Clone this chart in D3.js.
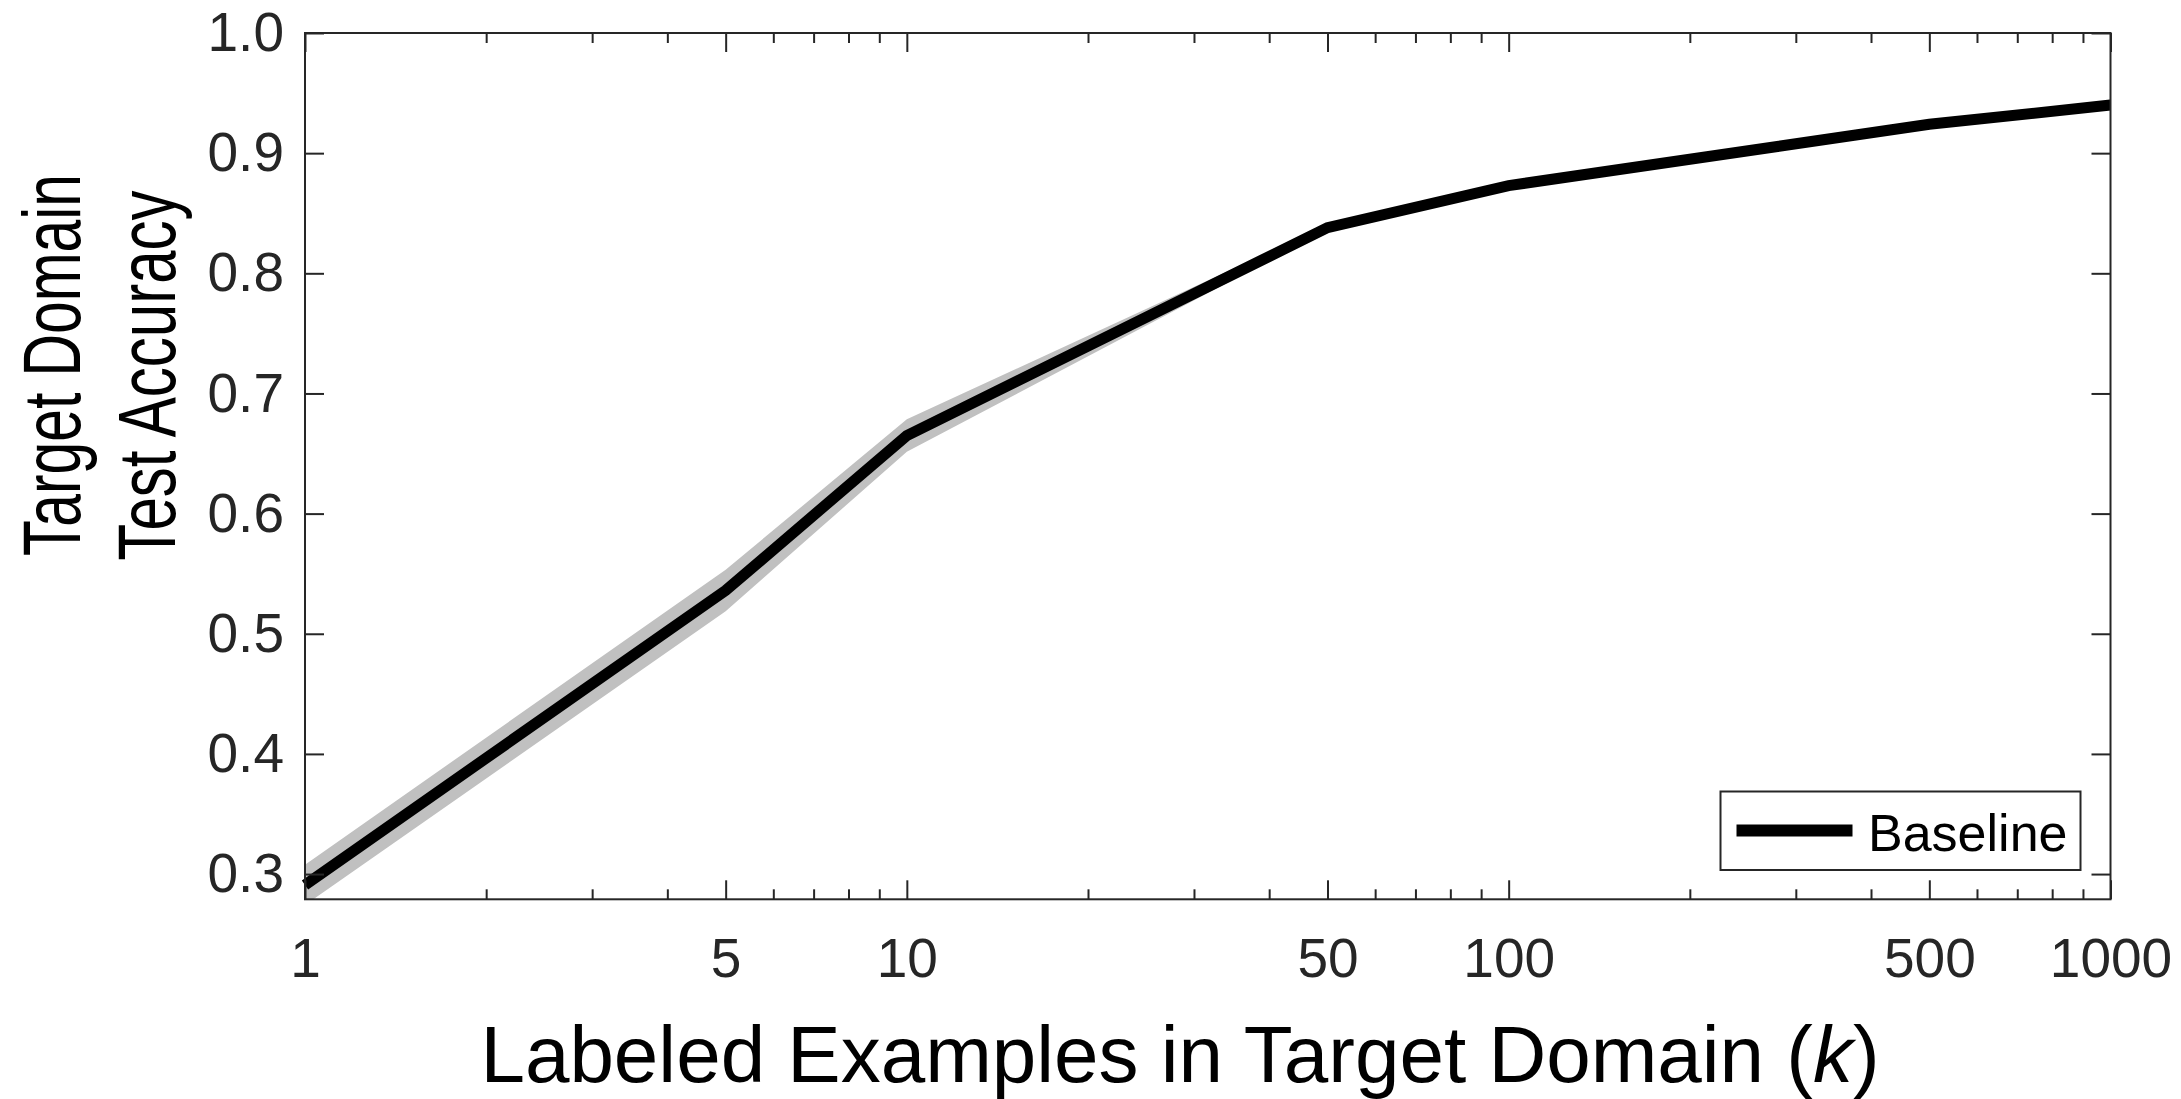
<!DOCTYPE html>
<html>
<head>
<meta charset="utf-8">
<script src="https://cdn.jsdelivr.net/npm/d3@7"></script>
<style>
  html, body { margin: 0; padding: 0; background: #fff; }
  svg { display: block; font-family: "Liberation Sans", Arial, Helvetica, sans-serif; }
</style>
</head>
<body>
<svg id="chart" width="2181" height="1099"></svg>
<script>
// Labeled examples k (log axis) and mean target-domain test accuracy
const kValues = [1, 5, 10, 50, 100, 500, 1000];
const baselineMean = [0.291, 0.536, 0.665, 0.838, 0.873, 0.924, 0.940];
const baselineStd = [0.0168, 0.0173, 0.0135, 0.002, 0.002, 0.001, 0.001];

const xTickValues = [1, 5, 10, 50, 100, 500, 1000];
const yTickValues = [0.3, 0.4, 0.5, 0.6, 0.7, 0.8, 0.9, 1.0];

const xLabel = "Labeled Examples in Target Domain (";
const xLabelVar = "k";
const yLabelLines = ["Target Domain", "Test Accuracy"];
const legendLabel = "Baseline";

const plot = { left: 305, right: 2110.5, top: 33, bottom: 899.3 };
const axisColor = "#262626";

const svg = d3.select("#chart");

const x = d3.scaleLog().domain([1, 1000]).range([plot.left, plot.right]);
const y = d3.scaleLinear().domain([0.279, 1]).range([plot.bottom, plot.top]);

svg.append("defs").append("clipPath").attr("id", "plotClip")
  .append("rect")
  .attr("x", plot.left).attr("y", plot.top)
  .attr("width", plot.right - plot.left).attr("height", plot.bottom - plot.top);

const rows = kValues.map((k, i) => ({ k, m: baselineMean[i], s: baselineStd[i] }));

// shaded spread around the mean
const band = d3.area()
  .x(d => x(d.k))
  .y0(d => y(d.m - d.s))
  .y1(d => y(d.m + d.s));

svg.append("path")
  .datum(rows)
  .attr("clip-path", "url(#plotClip)")
  .attr("d", band)
  .attr("fill", "#c0c0c0");

// mean curve
const line = d3.line().x(d => x(d.k)).y(d => y(d.m));
svg.append("path")
  .datum(rows)
  .attr("d", line)
  .attr("fill", "none")
  .attr("stroke", "#000")
  .attr("stroke-width", 11)
  .attr("stroke-linejoin", "miter");

// minor log ticks (unlabeled)
const minorTicks = x.ticks().filter(v => !xTickValues.includes(v));

function styleAxis(g) {
  g.select(".domain").remove();
  g.selectAll(".tick line").attr("stroke", axisColor).attr("stroke-width", 2);
  g.selectAll(".tick text")
    .attr("fill", axisColor)
    .style("font-size", "55px");
}

// bottom axis
svg.append("g")
  .attr("transform", `translate(0,${plot.bottom})`)
  .call(d3.axisBottom(x).tickValues(xTickValues).tickSize(-19).tickPadding(39)
    .tickFormat(d3.format("d")))
  .call(styleAxis);
svg.append("g")
  .attr("transform", `translate(0,${plot.bottom})`)
  .call(d3.axisBottom(x).tickValues(minorTicks).tickSize(-10).tickFormat(""))
  .call(styleAxis);

// top axis (ticks only)
svg.append("g")
  .attr("transform", `translate(0,${plot.top})`)
  .call(d3.axisTop(x).tickValues(xTickValues).tickSize(-19).tickFormat(""))
  .call(styleAxis);
svg.append("g")
  .attr("transform", `translate(0,${plot.top})`)
  .call(d3.axisTop(x).tickValues(minorTicks).tickSize(-10).tickFormat(""))
  .call(styleAxis);

// left axis
svg.append("g")
  .attr("transform", `translate(${plot.left},0)`)
  .call(d3.axisLeft(y).tickValues(yTickValues).tickSize(-19).tickPadding(21)
    .tickFormat(d3.format(".1f")))
  .call(styleAxis);

// right axis (ticks only)
svg.append("g")
  .attr("transform", `translate(${plot.right},0)`)
  .call(d3.axisRight(y).tickValues(yTickValues).tickSize(-19).tickFormat(""))
  .call(styleAxis);

// axes box
svg.append("rect")
  .attr("x", plot.left).attr("y", plot.top)
  .attr("width", plot.right - plot.left).attr("height", plot.bottom - plot.top)
  .attr("fill", "none")
  .attr("stroke", axisColor)
  .attr("stroke-width", 2);

// x label
const xl = svg.append("text")
  .attr("x", 1180).attr("y", 1082)
  .attr("text-anchor", "middle")
  .attr("fill", "#000")
  .style("font-size", "80px");
xl.append("tspan").text(xLabel);
xl.append("tspan").attr("font-style", "italic").text(xLabelVar);
xl.append("tspan").text(")");

// y label, two lines
const yLabelPos = [{ bx: 80, cy: 365, len: 382 }, { bx: 175, cy: 375.5, len: 370 }];
yLabelLines.forEach((t, i) => {
  const p = yLabelPos[i];
  svg.append("text")
    .attr("transform", `translate(${p.bx},${p.cy}) rotate(-90)`)
    .attr("text-anchor", "middle")
    .attr("textLength", p.len)
    .attr("lengthAdjust", "spacingAndGlyphs")
    .attr("fill", "#000")
    .style("font-size", "81px")
    .text(t);
});

// legend
const lg = svg.append("g");
lg.append("rect")
  .attr("x", 1720.5).attr("y", 791.5).attr("width", 360).attr("height", 78.5)
  .attr("fill", "#fff").attr("stroke", axisColor).attr("stroke-width", 2);
lg.append("line")
  .attr("x1", 1736.5).attr("x2", 1852.5).attr("y1", 830.5).attr("y2", 830.5)
  .attr("stroke", "#000").attr("stroke-width", 12);
lg.append("text")
  .attr("x", 1868).attr("y", 851)
  .attr("fill", "#000")
  .style("font-size", "52px")
  .text(legendLabel);
</script>
</body>
</html>
